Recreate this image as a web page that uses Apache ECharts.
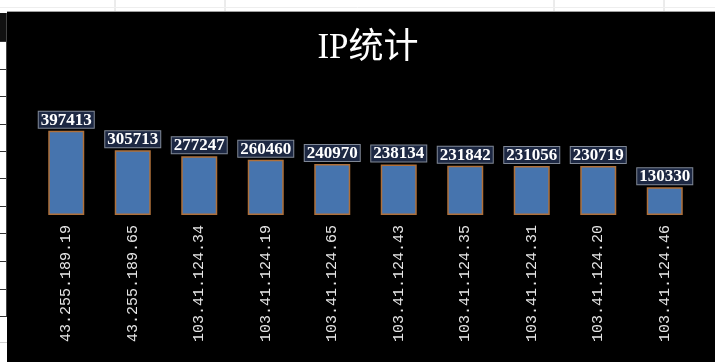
<!DOCTYPE html>
<html>
<head>
<meta charset="utf-8">
<style>
  html, body { margin: 0; padding: 0; background: #ffffff; }
  #chart { width: 715px; height: 362px; }
</style>
<script src="https://cdn.jsdelivr.net/npm/echarts@6/dist/echarts.min.js"></script>
</head>
<body>
<div id="chart"></div>
<script>
// IP addresses and their hit counts
const ips = [
  '43.255.189.19', '43.255.189.65', '103.41.124.34', '103.41.124.19',
  '103.41.124.65', '103.41.124.43', '103.41.124.35', '103.41.124.31',
  '103.41.124.20', '103.41.124.46'
];
const counts = [397413, 305713, 277247, 260460, 240970, 238134, 231842, 231056, 230719, 130330];
const chartTitle = 'IP统计';

// worksheet cell borders visible around the chart frame
const rowLines = [41, 69, 96, 124, 151, 178, 206, 233, 261, 289, 316];
const colLines = [115, 225, 554, 664];

const chart = echarts.init(document.getElementById('chart'), null, { renderer: 'canvas' });

const sheetGraphics = [];
colLines.forEach(function (x) {
  sheetGraphics.push({
    type: 'line', z: -5,
    shape: { x1: x, y1: 0, x2: x, y2: 12 },
    style: { stroke: '#d8d8d8', lineWidth: 1 }
  });
});
sheetGraphics.push({
  type: 'line', z: -5,
  shape: { x1: 0, y1: 7.5, x2: 715, y2: 7.5 },
  style: { stroke: '#eeeeee', lineWidth: 1 }
});
sheetGraphics.push({
  type: 'rect', z: -4,
  shape: { x: 0, y: 13, width: 7, height: 28 },
  style: { fill: '#111111' }
});
rowLines.forEach(function (y) {
  sheetGraphics.push({
    type: 'line', z: -4,
    shape: { x1: 0, y1: y + 0.5, x2: 7, y2: y + 0.5 },
    style: { stroke: '#333333', lineWidth: 1 }
  });
});
sheetGraphics.push({
  type: 'line', z: -4,
  shape: { x1: 0, y1: 342.5, x2: 7, y2: 342.5 },
  style: { stroke: '#d0d0d0', lineWidth: 1 }
});
sheetGraphics.push({
  type: 'line', z: -4,
  shape: { x1: 6.5, y1: 13, x2: 6.5, y2: 316 },
  style: { stroke: '#444444', lineWidth: 1 }
});
// chart area
sheetGraphics.push({
  type: 'rect', z: -3,
  shape: { x: 7, y: 12, width: 708, height: 350 },
  style: { fill: '#000000' }
});
sheetGraphics.push({
  type: 'line', z: -3,
  shape: { x1: 7, y1: 11.5, x2: 715, y2: 11.5 },
  style: { stroke: '#a0a0a0', lineWidth: 1 }
});

chart.setOption({
  backgroundColor: '#ffffff',
  animation: false,
  graphic: sheetGraphics,
  title: {
    text: chartTitle,
    left: 363,
    top: 26,
    textAlign: 'center',
    textStyle: {
      color: '#ffffff',
      fontSize: 35,
      fontWeight: 'normal',
      fontFamily: '"Liberation Serif", "Noto Sans CJK SC", serif'
    }
  },
  grid: { left: 33, right: 17, top: 109, bottom: 147 },
  xAxis: {
    type: 'category',
    data: ips,
    axisLine: { show: false },
    axisTick: { show: false },
    axisLabel: {
      rotate: 90,
      interval: 0,
      margin: 10,
      color: '#e6e6e6',
      fontSize: 15,
      fontFamily: '"Liberation Mono", "DejaVu Sans Mono", monospace'
    }
  },
  yAxis: {
    type: 'value',
    min: 0,
    max: 500000,
    show: false,
    splitLine: { show: false }
  },
  series: [{
    type: 'bar',
    data: counts,
    barWidth: 36,
    itemStyle: {
      color: '#4674ae',
      borderColor: '#b0703a',
      borderWidth: 1.5
    },
    label: {
      show: true,
      position: 'top',
      distance: 3,
      color: '#ffffff',
      fontSize: 17,
      fontWeight: 'bold',
      fontFamily: '"Liberation Serif", serif',
      backgroundColor: '#1d2843',
      borderColor: '#808896',
      borderWidth: 1,
      padding: [0, 2, -1, 2],
      lineHeight: 17
    }
  }]
});
</script>
</body>
</html>
